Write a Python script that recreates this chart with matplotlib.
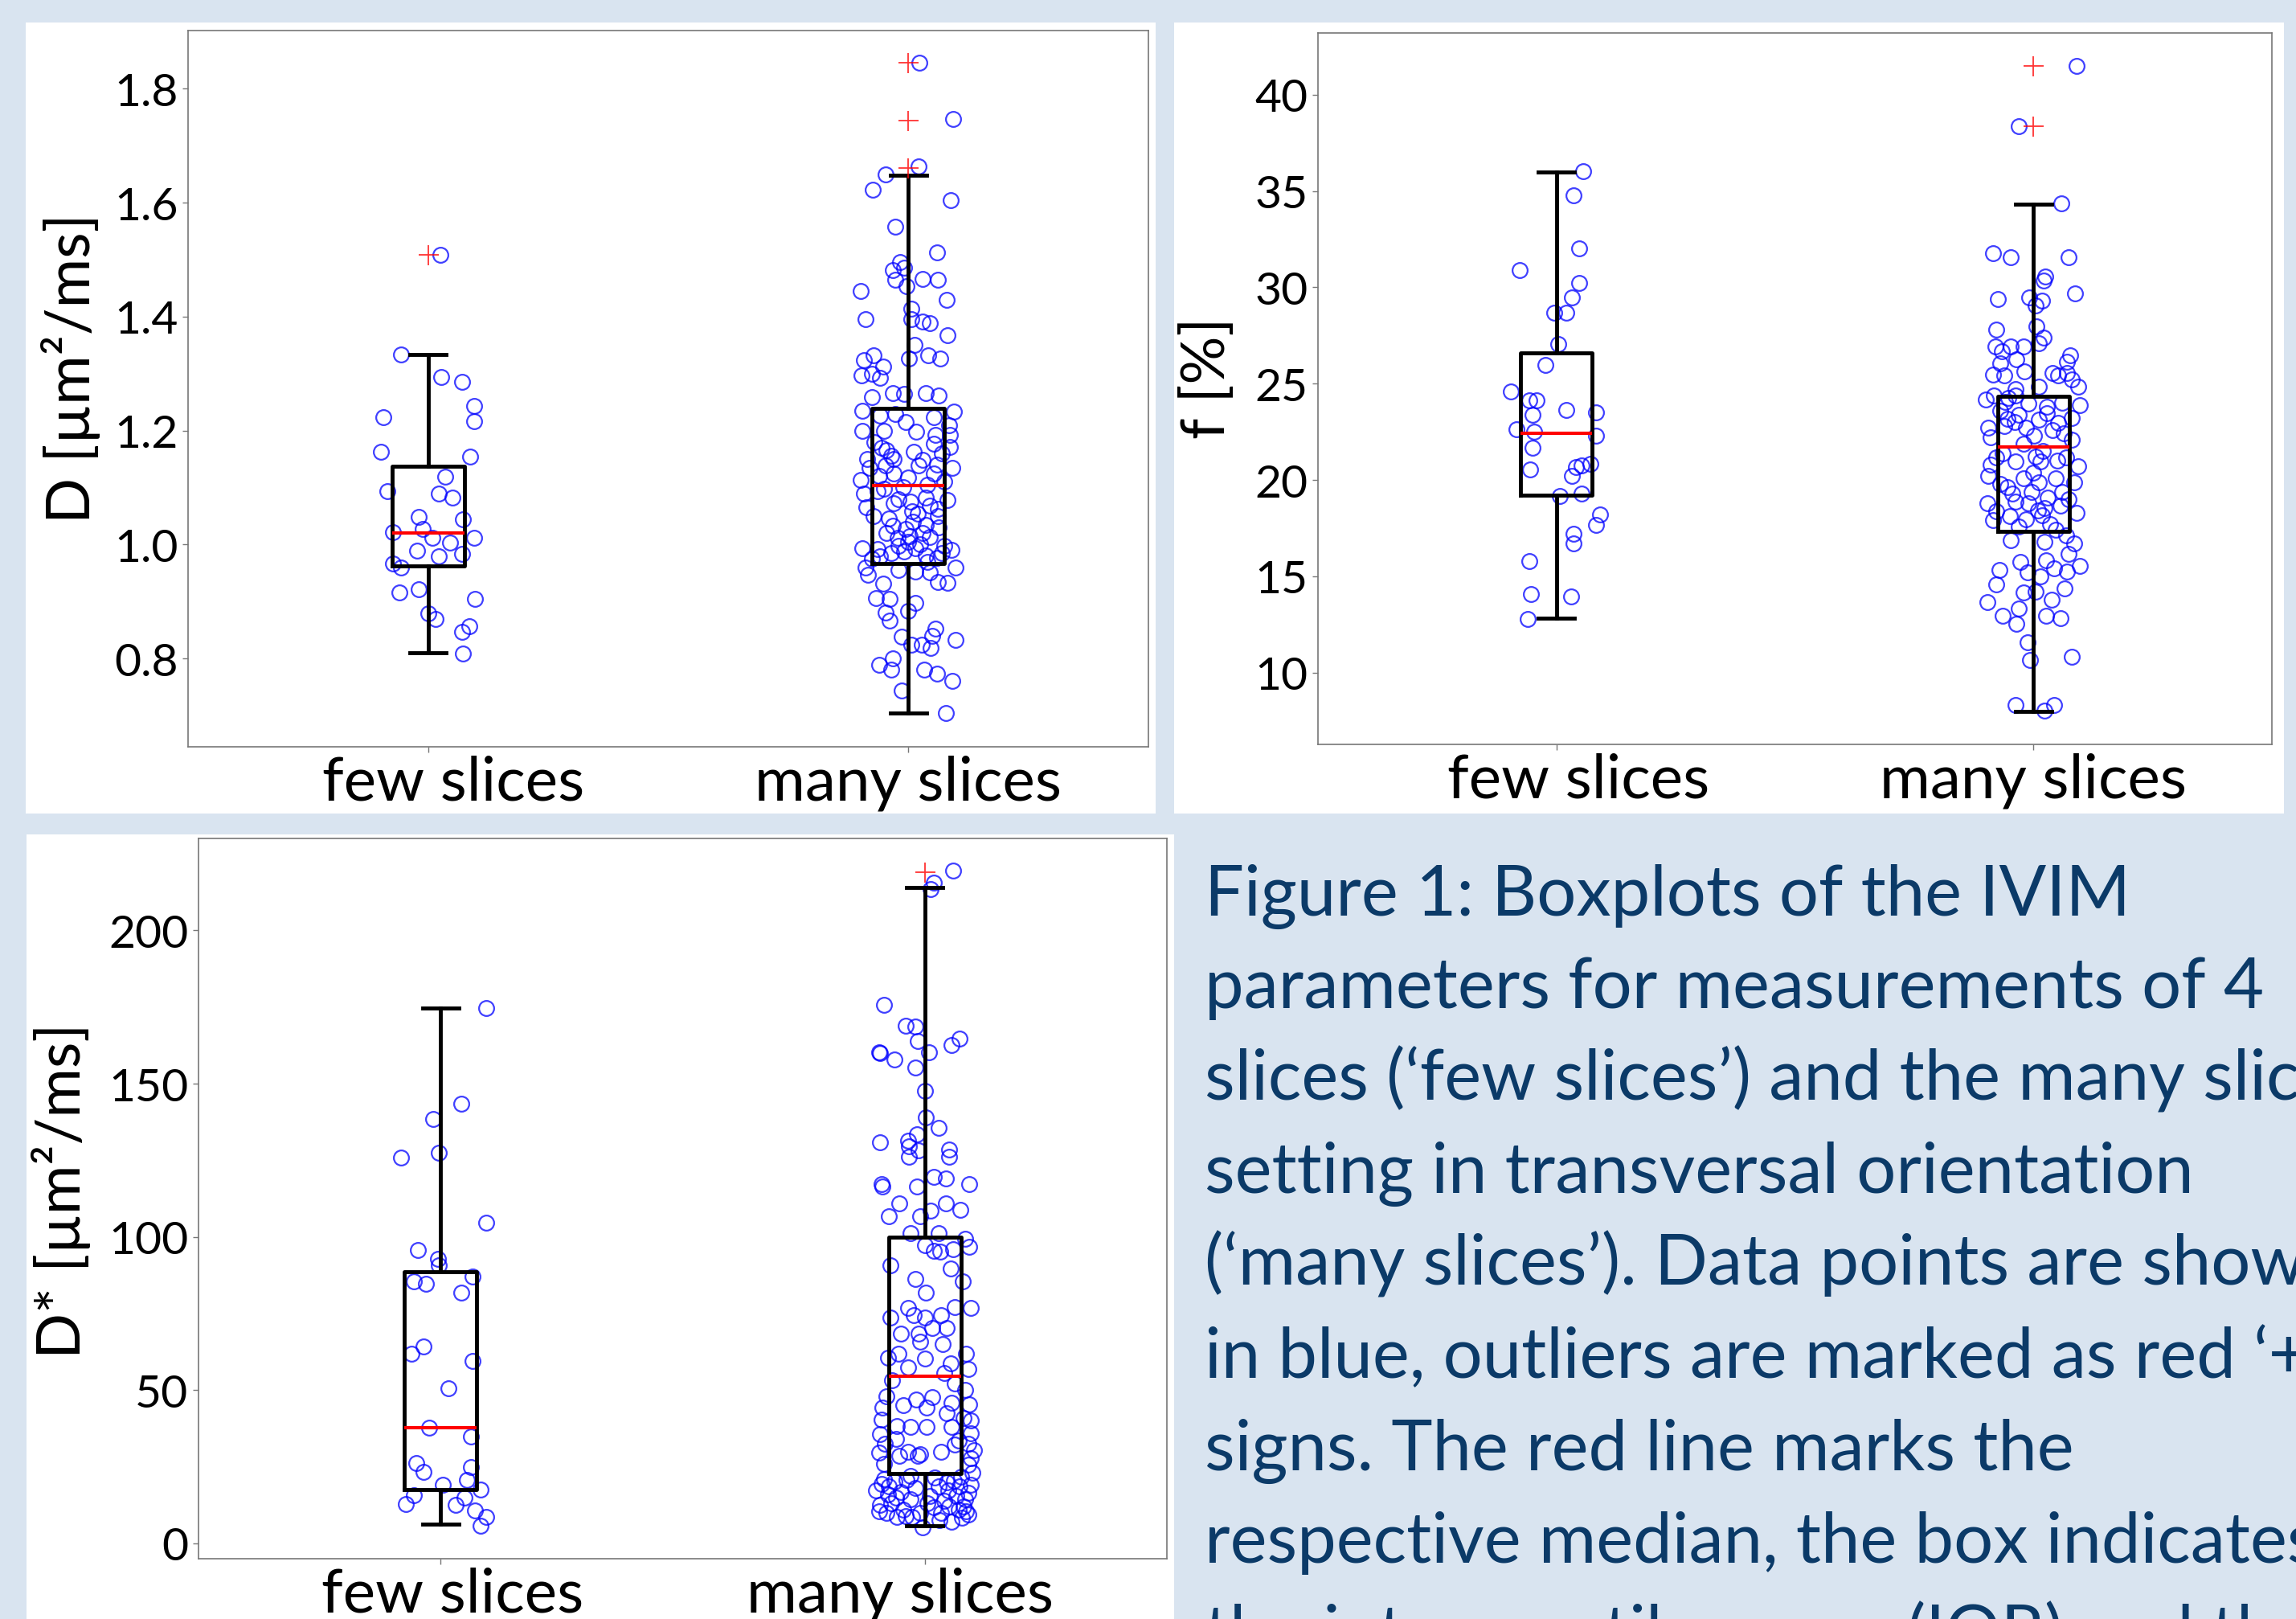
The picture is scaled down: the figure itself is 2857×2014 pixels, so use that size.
import matplotlib
matplotlib.use("Agg")
import matplotlib.pyplot as plt
from matplotlib.patches import Rectangle
from matplotlib.transforms import ScaledTranslation

# ---------------------------
# data
# ---------------------------
groups = ["few slices", "many slices"]

# D [um^2/ms]
d_few = [1.509, 1.333, 1.294, 1.285, 1.243, 1.216, 1.223, 1.163, 1.154, 1.119,
         1.094, 1.090, 1.083, 1.049, 1.044, 1.028, 1.021, 1.012, 1.012, 1.003,
         0.989, 0.980, 0.984, 0.966, 0.959, 0.916, 0.922, 0.904, 0.879, 0.870,
         0.856, 0.847, 0.808]
d_few_dx = [0.026, -0.057, 0.028, 0.070, 0.096, 0.096, -0.093, -0.098, 0.088, 0.036,
            -0.085, 0.023, 0.050, -0.019, 0.073, -0.011, -0.074, 0.008, 0.096, 0.046,
            -0.023, 0.023, 0.070, -0.073, -0.057, -0.060, -0.019, 0.098, 0.0, 0.015,
            0.085, 0.070, 0.073]

d_many = [1.846, 1.747, 1.664, 1.649, 1.622, 1.604, 1.558, 1.513, 1.496, 1.481,
          1.486, 1.464, 1.453, 1.466, 1.464, 1.445, 1.430, 1.414, 1.396, 1.395,
          1.391, 1.389, 1.368, 1.351, 1.332, 1.323, 1.326, 1.332, 1.326, 1.313,
          1.297, 1.299, 1.292,
          1.259, 1.266, 1.264, 1.266, 1.262, 1.235, 1.226, 1.229, 1.224, 1.233,
          1.200, 1.198, 1.193, 1.192, 1.177, 1.171, 1.170, 1.156, 1.163, 1.134,
          1.139, 1.139, 1.134, 1.113, 1.125, 1.118, 1.125, 1.090, 1.094, 1.080,
          1.082, 1.078, 1.066, 1.073, 1.059, 1.062, 1.050, 1.054, 1.050, 1.033,
          1.028, 1.035, 1.030, 1.012, 1.015, 1.013, 0.993, 0.992, 0.997, 0.993,
          0.998, 0.979, 0.988, 0.981, 0.977, 0.960, 0.956, 0.953, 0.951, 0.960,
          0.947, 0.934, 0.933, 0.932, 0.906, 0.905, 0.897, 0.880, 0.883, 0.866,
          0.852, 0.838, 0.839, 0.833, 0.824, 0.824, 0.819, 0.800, 0.789, 0.781,
          0.781, 0.774, 0.760, 0.744, 0.704,
          1.180, 1.165, 1.150, 1.148, 1.160, 1.120, 1.105, 1.100, 1.110, 1.098,
          1.075, 1.068, 1.045, 1.040, 1.020, 1.020, 1.005, 1.000, 0.985, 0.985,
          0.975, 0.970, 0.990, 1.210, 1.215, 1.200, 1.140, 1.150]
d_many_dx = [0.023, 0.094, 0.021, -0.047, -0.074, 0.088, -0.028, 0.059, -0.017, -0.033,
             -0.008, -0.028, -0.003, 0.030, 0.061, -0.100, 0.080, 0.007, -0.089, 0.006,
             0.030, 0.045, 0.081, 0.013, -0.073, -0.092, 0.002, 0.041, 0.067, -0.053,
             -0.097, -0.075, -0.059,
             -0.075, -0.033, -0.008, 0.036, 0.064, -0.095, -0.059, -0.028, 0.053, 0.095,
             -0.095, 0.017, 0.056, 0.086, 0.053, 0.086, -0.056, -0.036, 0.011, -0.081,
             -0.047, 0.022, 0.092, -0.100, -0.031, 0.0, 0.053, -0.092, -0.064, -0.020,
             0.036, 0.081, -0.087, -0.031, 0.008, 0.061, -0.073, 0.020, 0.061, -0.033,
             -0.006, 0.036, 0.064, -0.022, 0.003, 0.045, -0.095, -0.064, -0.020, 0.014,
             0.075, -0.059, -0.008, 0.036, 0.059, -0.089, -0.020, 0.014, 0.045, 0.098,
             -0.084, 0.061, 0.081, -0.053, -0.067, -0.039, 0.014, -0.047, 0.0, -0.039,
             0.056, -0.014, 0.050, 0.098, 0.006, 0.028, 0.047, -0.033, -0.061, -0.036,
             0.033, 0.059, 0.092, -0.014, 0.078,
             -0.070, -0.045, -0.030, 0.030, 0.070, -0.060, 0.040, -0.010, 0.075, -0.050,
             0.005, 0.045, -0.040, 0.010, 0.030, -0.045, 0.000, 0.025, -0.035, 0.070,
             -0.075, 0.040, 0.090, 0.085, -0.005, -0.050, 0.060, -0.085]

d_median = [1.020, 1.103]
d_q1 = [0.963, 0.966]
d_q3 = [1.138, 1.239]
d_whislo = [0.810, 0.704]
d_whishi = [1.333, 1.648]
d_fliers = [[1.509], [1.845, 1.744, 1.661]]

# f [%]
f_few = [36.01, 34.79, 32.02, 30.90, 30.23, 29.49, 28.68, 28.68, 27.05, 25.96,
         24.60, 24.12, 24.12, 23.38, 23.65, 23.52, 22.65, 22.49, 22.30, 21.67,
         20.53, 20.67, 20.75, 20.86, 20.21, 19.17, 19.31, 18.22, 17.68, 17.22,
         16.73, 15.78, 14.07, 13.96, 12.79]
f_few_dx = [0.056, 0.036, 0.048, -0.077, 0.048, 0.033, -0.005, 0.020, 0.003, -0.024,
            -0.095, -0.057, -0.042, -0.050, 0.020, 0.083, -0.083, -0.047, 0.083, -0.050,
            -0.056, 0.041, 0.053, 0.071, 0.033, 0.008, 0.053, 0.091, 0.083, 0.036,
            0.036, -0.057, -0.053, 0.030, -0.060]

f_many = [41.50, 38.36, 34.34, 31.78, 31.54, 31.54, 30.57, 30.36, 29.69, 29.39,
          29.46, 29.32, 29.04, 27.81, 27.99, 27.37, 27.09, 26.91, 26.91, 26.95,
          26.68, 26.46, 26.26, 26.05, 26.12, 25.46, 25.41, 25.62, 25.55, 25.41,
          25.55, 24.86, 24.72, 24.86, 25.20, 24.17, 24.38, 24.38, 23.89, 23.82,
          24.24, 23.96, 22.71, 23.19, 23.40, 23.12, 22.98, 22.43, 22.23, 22.30,
          22.78, 23.47, 21.18, 20.97, 20.97, 21.18, 20.70, 20.20, 19.65, 20.07,
          19.86, 20.07, 19.37, 18.81, 18.88, 18.81, 18.53, 19.02, 18.39, 18.11,
          17.97, 18.18, 18.67, 17.42, 17.14, 16.87, 16.80, 16.73, 16.17, 15.75,
          15.82, 15.33, 15.19, 15.40, 15.54, 15.26, 14.57, 14.99, 14.15, 14.22,
          14.36, 13.66, 13.80, 13.32, 12.97, 12.55, 12.97, 12.83, 11.58, 10.67,
          10.81, 8.31, 8.03, 8.31,
          23.60, 23.00, 22.60, 22.10, 21.90, 21.50, 21.40, 21.00, 20.80, 20.40,
          19.90, 19.30, 19.10, 19.40, 19.80, 18.40, 17.90, 18.30, 17.60, 17.70,
          23.20, 22.70, 24.00, 24.05, 21.20]
f_many_dx = [0.090, -0.030, 0.058, -0.084, -0.047, 0.074, 0.025, 0.021, 0.087, -0.075,
             -0.009, 0.018, 0.004, -0.078, 0.007, 0.021, 0.012, -0.080, -0.047, -0.021,
             -0.066, 0.077, -0.035, -0.069, 0.071, -0.085, -0.061, -0.019, 0.040, 0.052,
             0.071, 0.012, -0.038, 0.094, 0.080, -0.100, -0.083, -0.038, 0.097, 0.029,
             -0.052, -0.010, -0.094, -0.055, -0.030, 0.012, 0.052, 0.063, -0.089, 0.001,
             -0.061, 0.029, -0.078, -0.038, 0.015, 0.069, 0.094, -0.094, -0.055, -0.021,
             0.012, 0.046, -0.004, -0.097, -0.038, -0.010, 0.024, 0.074, -0.078, -0.050,
             -0.016, 0.018, 0.057, 0.046, 0.069, -0.047, 0.024, 0.085, 0.074, -0.027,
             0.026, -0.072, -0.013, 0.043, 0.097, 0.071, -0.078, 0.015, -0.021, 0.004,
             0.066, -0.097, 0.038, -0.030, -0.064, -0.035, 0.026, 0.057, -0.013, -0.007,
             0.080, -0.038, 0.024, 0.043,
             -0.070, -0.040, 0.040, 0.080, -0.020, 0.020, -0.065, 0.050, -0.090, 0.000,
             0.085, -0.045, 0.030, 0.060, -0.070, 0.010, -0.085, 0.090, -0.030, 0.035,
             0.080, -0.015, 0.060, -0.060, 0.005]

f_median = [22.41, 21.73]
f_q1 = [19.23, 17.33]
f_q3 = [26.59, 24.33]
f_whislo = [12.82, 7.99]
f_whishi = [36.00, 34.33]
f_fliers = [[], [41.49, 38.34]]

# D* [um^2/ms]
ds_few = [174.6, 143.5, 138.5, 127.5, 126.0, 104.7, 95.6, 92.8, 90.6, 85.6,
          84.8, 87.0, 81.8, 64.3, 61.8, 59.4, 50.7, 37.7, 34.9, 26.3,
          23.3, 24.9, 20.8, 19.1, 17.5, 15.8, 12.8, 12.5, 15.0, 10.8,
          8.6, 5.8]
ds_few_dx = [0.094, 0.042, -0.016, -0.003, -0.082, 0.094, -0.047, -0.006, -0.003, -0.055,
             -0.031, 0.066, 0.042, -0.036, -0.060, 0.066, 0.016, -0.024, 0.063, -0.050,
             -0.036, 0.063, 0.055, 0.005, 0.082, -0.055, -0.071, 0.031, 0.050, 0.071,
             0.094, 0.082]

ds_many = [219.5, 215.6, 213.6, 175.6, 168.8, 168.7, 164.0, 164.6, 162.5, 160.3,
           159.9, 160.3, 157.9, 155.3, 147.7, 139.0, 135.7, 133.5, 130.8, 131.3,
           129.5, 128.2, 128.5, 126.2, 126.1, 119.7, 119.0, 117.1, 116.5, 117.3,
           116.4, 110.8, 110.8, 106.8, 106.8, 108.6, 108.9,
           101.2, 101.2, 99.5, 96.8, 97.2, 95.5, 95.3, 95.9, 90.7, 89.8,
           85.4, 86.3, 81.7, 77.1, 76.9, 76.9, 73.6, 74.5, 73.6, 74.5,
           68.4, 68.4, 70.2, 70.2, 65.8, 65.0, 60.5, 61.8, 60.4, 58.8,
           57.0, 57.4, 53.1, 52.3, 50.1, 47.0, 47.6, 44.4, 45.8, 45.4,
           44.4, 42.6, 38.3, 37.9, 37.9, 37.9, 40.0, 35.7, 32.6, 30.0,
           29.1, 30.0, 32.2, 32.6, 30.4, 26.0, 28.6, 28.6, 27.7, 25.6,
           20.8, 20.1, 17.3, 16.0, 16.8, 14.3, 18.6, 17.3, 18.6, 16.4,
           23.0, 12.5, 9.9, 8.6, 11.7, 12.1, 10.9, 8.3, 14.3, 5.1,
           8.6, 9.9,
           19.5, 13.0, 11.0, 18.0, 15.5, 14.0, 20.5, 12.0, 19.0, 15.0,
           21.0, 21.5, 10.0, 15.5, 7.5, 9.0, 9.5, 10.5, 7.0, 18.5,
           13.0, 21.8, 22.0, 19.8, 10.5,
           40.5, 41.0, 48.0, 36.0, 34.0, 62.0, 55.5, 45.0, 33.5, 29.5]
ds_many_dx = [0.059, 0.018, 0.012, -0.085, -0.040, -0.020, -0.015, 0.072, 0.055, -0.094,
              -0.092, 0.008, -0.063, -0.020, 0.001, 0.002, 0.028, -0.017, -0.092, -0.035,
              -0.033, -0.013, 0.051, 0.050, -0.033, 0.018, 0.044, -0.089, -0.088, 0.091,
              -0.017, -0.053, 0.043, -0.074, -0.010, 0.012, 0.074,
              -0.029, 0.029, 0.084, 0.092, 0.001, 0.018, 0.032, 0.059, -0.071, 0.054,
              0.079, -0.020, 0.002, 0.062, 0.095, -0.035, -0.071, -0.023, 0.001, 0.034,
              -0.049, -0.013, 0.015, 0.045, -0.010, 0.037, -0.076, -0.054, 0.001, 0.054,
              0.090, -0.035, -0.068, 0.062, 0.084, -0.018, 0.015, 0.004, 0.056, 0.092,
              -0.088, 0.045, -0.057, -0.029, 0.004, 0.056, 0.095, -0.093, -0.082, -0.035,
              -0.010, 0.034, 0.062, 0.090, 0.101, -0.085, -0.052, -0.015, 0.095, 0.090,
              -0.037, -0.062, -0.101, -0.076, -0.049, -0.029, 0.029, 0.048, 0.071, 0.090,
              0.098, -0.093, -0.079, -0.057, 0.018, 0.051, 0.070, 0.076, 0.084, -0.004,
              -0.026, 0.034,
              -0.090, -0.070, -0.045, -0.020, 0.010, 0.040, 0.060, 0.080, 0.095, -0.060,
              -0.085, 0.020, -0.010, 0.065, 0.030, -0.040, 0.090, -0.095, 0.055, -0.075,
              0.005, 0.075, -0.030, 0.045, 0.085,
              -0.090, 0.080, -0.080, 0.095, -0.060, 0.085, 0.040, -0.045, 0.070, -0.095]

ds_median = [37.7, 54.5]
ds_q1 = [17.5, 22.9]
ds_q3 = [88.6, 99.8]
ds_whislo = [6.2, 5.8]
ds_whishi = [174.6, 214.0]
ds_fliers = [[], [219.0]]

caption_lines = [
    "Figure 1: Boxplots of the IVIM",
    "parameters for measurements of 4",
    "slices (\u2018few slices\u2019) and the many slices",
    "setting in transversal orientation",
    "(\u2018many slices\u2019). Data points are shown",
    "in blue, outliers are marked as red \u2018+\u2019",
    "signs. The red line marks the",
    "respective median, the box indicates",
    "the interquartile range (IQR) and the",
]

# ---------------------------
# style
# ---------------------------
plt.rcParams["font.family"] = ["Lato", "DejaVu Sans"]

BG = "#d9e4f0"
NAVY = "#0b3a68"
W, H = 2857, 2015

fig = plt.figure(figsize=(W / 100, H / 100), dpi=100, facecolor=BG)


def px_rect(x0, y0, x1, y1):
    """pixel box (top-left origin) -> figure fraction [l, b, w, h]"""
    return [x0 / W, 1 - y1 / H, (x1 - x0) / W, (y1 - y0) / H]


def white_panel(x0, y0, x1, y1):
    l, b, w, h = px_rect(x0, y0, x1, y1)
    fig.add_artist(Rectangle((l, b), w, h, transform=fig.transFigure,
                             facecolor="white", edgecolor="none", zorder=-5))


def draw_panel(rect, vals, dxs, med, q1, q3, wlo, whi, fliers,
               ylim, yticks, ytick_fmt, ylabel, label_xy, label_shift):
    ax = fig.add_axes(rect)

    # jittered data points
    for pos, (v, dx) in enumerate(zip(vals, dxs), start=1):
        xs = [pos + o for o in dx]
        ax.plot(xs, v, "o", ls="none", ms=13.5, mfc="none",
                mec=(0, 0, 1, 0.75), mew=1.6, zorder=1)

    stats = []
    for i in range(2):
        stats.append(dict(med=med[i], q1=q1[i], q3=q3[i], whislo=wlo[i],
                          whishi=whi[i], fliers=fliers[i], label=groups[i]))

    line = dict(color="black", linewidth=3.5)
    ax.bxp(stats, positions=[1, 2], widths=0.15,
           boxprops=line, whiskerprops=line, capprops=line,
           medianprops=dict(color="red", linewidth=3.0),
           flierprops=dict(marker="+", markersize=18, markeredgewidth=1.3,
                           markeredgecolor=(1, 0, 0, 0.8), linestyle="none"),
           zorder=3)

    ax.set_xlim(0.5, 2.5)
    ax.set_ylim(*ylim)
    ax.set_yticks(yticks)
    ax.set_yticklabels([ytick_fmt.format(t) for t in yticks])

    for s in ax.spines.values():
        s.set_color("#777777")
        s.set_linewidth(1.2)
    ax.tick_params(axis="y", labelsize=41, color="#777777", length=5, width=1, pad=4)
    ax.tick_params(axis="x", labelsize=55, color="#777777", length=5, width=1, pad=2)

    # the poster nudges the category names a little off their ticks
    for lab, shift in zip(ax.get_xticklabels(), label_shift):
        lab.set_transform(lab.get_transform()
                          + ScaledTranslation(shift / 100, 0, fig.dpi_scale_trans))

    ax.set_ylabel(ylabel, fontsize=54)
    ax.yaxis.label.set_va("center")
    ax.yaxis.set_label_coords(*label_xy)
    return ax


# white poster panels behind the charts
white_panel(32, 29, 1438, 1013)
white_panel(1461, 29, 2842, 1013)
white_panel(33, 1039, 1461, 2015)

draw_panel(px_rect(234, 39, 1429, 930), [d_few, d_many], [d_few_dx, d_many_dx],
           d_median, d_q1, d_q3, d_whislo, d_whishi, d_fliers,
           (0.645, 1.902), [0.8, 1.0, 1.2, 1.4, 1.6, 1.8], "{:.1f}",
           "D [\u00b5m\u00b2/ms]", (-0.122, 0.53), (31, 0))

draw_panel(px_rect(1640, 42, 2827, 927), [f_few, f_many], [f_few_dx, f_many_dx],
           f_median, f_q1, f_q3, f_whislo, f_whishi, f_fliers,
           (6.28, 43.2), [10, 15, 20, 25, 30, 35, 40], "{:d}",
           "f [%]", (-0.116, 0.516), (27, 0))

draw_panel(px_rect(247, 1044, 1452, 1940), [ds_few, ds_many], [ds_few_dx, ds_many_dx],
           ds_median, ds_q1, ds_q3, ds_whislo, ds_whishi, ds_fliers,
           (-5.0, 230.0), [0, 50, 100, 150, 200], "{:d}",
           "D* [\u00b5m\u00b2/ms]", (-0.142, 0.512), (15, -31))

# caption text (runs off the right and bottom edge like the poster crop)
baseline0, step = 1139, 115
for i, txt in enumerate(caption_lines):
    fig.text(1499 / W, 1 - (baseline0 + i * step) / H, txt,
             fontsize=62.5, color=NAVY, ha="left", va="baseline")

fig.savefig("out.png", dpi=100, facecolor=BG)
